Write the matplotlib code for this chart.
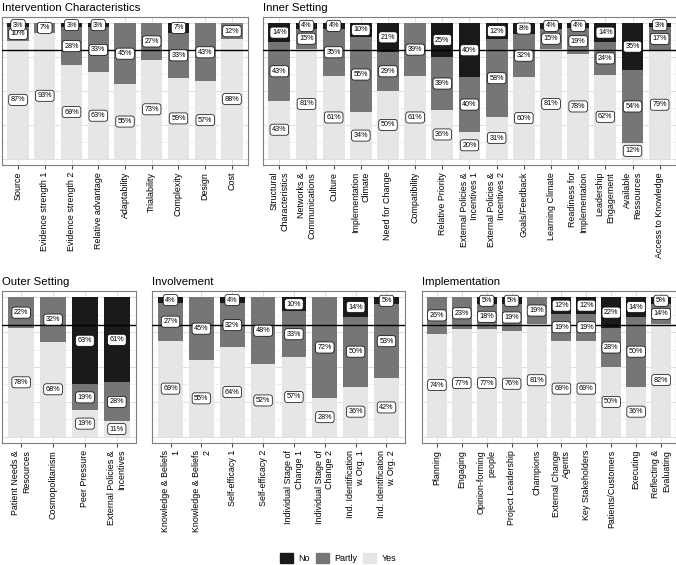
import matplotlib.pyplot as plt
from matplotlib.patches import Patch
import numpy as np

plt.rcParams['font.family'] = ['Liberation Sans', 'DejaVu Sans']

# Intervention Characteristics
ic_labels = ['Source', 'Evidence strength 1', 'Evidence strength 2', 'Relative advantage',
             'Adaptability', 'Trialability', 'Complexity', 'Design', 'Cost']
ic_yes = [87, 93, 69, 63, 55, 73, 59, 57, 88]
ic_partly = [10, 7, 28, 33, 45, 27, 33, 43, 12]
ic_no = [3, 0, 3, 3, 0, 0, 7, 0, 0]

# Inner Setting
is_labels = ['Structural\nCharacteristics', 'Networks &\nCommunications', 'Culture',
             'Implementation\nClimate', 'Need for Change', 'Compatibility', 'Relative Priority',
             'External Policies &\nIncentives 1', 'External Policies &\nIncentives 2',
             'Goals/Feedback', 'Learning Climate', 'Readiness for\nImplementation',
             'Leadership\nEngagement', 'Available\nRessources', 'Access to Knowledge']
is_yes = [43, 81, 61, 34, 50, 61, 36, 20, 31, 60, 81, 78, 62, 12, 79]
is_partly = [43, 15, 35, 55, 29, 39, 39, 40, 58, 32, 15, 19, 24, 54, 17]
is_no = [14, 4, 4, 10, 21, 0, 25, 40, 12, 8, 4, 4, 14, 35, 3]

# Outer Setting
os_labels = ['Patient Needs &\nResources', 'Cosmopolitanism', 'Peer Pressure',
             'External Policies &\nIncentives']
os_yes = [78, 68, 19, 11]
os_partly = [22, 32, 19, 28]
os_no = [0, 0, 63, 61]

# Involvement
iv_labels = ['Knowledge & Beliefs\n1', 'Knowledge & Beliefs\n2', 'Self-efficacy 1',
             'Self-efficacy 2', 'Individual Stage of\nChange 1', 'Individual Stage of\nChange 2',
             'Ind. Identification\nw. Org. 1', 'Ind. Identification\nw. Org. 2']
iv_yes = [69, 55, 64, 52, 57, 28, 36, 42]
iv_partly = [27, 45, 32, 48, 33, 72, 50, 53]
iv_no = [4, 0, 4, 0, 10, 0, 14, 5]

# Implementation
im_labels = ['Planning', 'Engaging', 'Opinion-forming\npeople', 'Project Leadership',
             'Champions', 'External Change\nAgents', 'Key Stakeholders', 'Patients/Customers',
             'Executing', 'Reflecting &\nEvaluating']
im_yes = [74, 77, 77, 76, 81, 69, 69, 50, 36, 82]
im_partly = [26, 23, 18, 19, 19, 19, 19, 28, 50, 14]
im_no = [0, 0, 5, 5, 0, 12, 12, 22, 14, 5]

colors = {'No': '#1a1a1a', 'Partly': '#767676', 'Yes': '#e6e6e6'}

W, H = 676, 565


def px_rect(x0, y0, x1, y1):
    return [x0 / W, 1 - y1 / H, (x1 - x0) / W, (y1 - y0) / H]


def panel(fig, rect, title, labels, yes, partly, no):
    ax = fig.add_axes(rect)
    x = np.arange(len(labels))
    yes, partly, no = (np.array(v, float) for v in (yes, partly, no))
    total = yes + partly + no
    bottom = np.zeros(len(x))
    for name, vals in [('Yes', yes), ('Partly', partly), ('No', no)]:
        h = vals / total
        ax.bar(x, h, bottom=bottom, width=0.8, color=colors[name], zorder=2)
        for xi, b, hi, v in zip(x, bottom, h, vals):
            if v > 0:
                ax.text(xi, b + hi / 2, f'{int(v)}%', ha='center', va='center',
                        fontsize=5.2, zorder=5,
                        bbox=dict(boxstyle='round,pad=0.28,rounding_size=0.35',
                                  fc='white', ec='black', lw=0.5))
        bottom = bottom + h
    ax.axhline(0.8, color='black', lw=1, zorder=4)

    ax.set_xlim(-0.6, len(x) - 0.4)
    ax.set_ylim(-0.045, 1.045)
    ax.set_yticks([0, 0.25, 0.5, 0.75, 1])
    ax.set_yticks([0.125, 0.375, 0.625, 0.875], minor=True)
    ax.grid(True, which='major', color='#d9d9d9', lw=0.6)
    ax.grid(True, which='minor', axis='y', color='#e6e6e6', lw=0.4)
    ax.set_axisbelow(True)
    ax.tick_params(axis='y', which='both', left=False, labelleft=False)
    ax.set_xticks(x)
    ax.set_xticklabels(labels, rotation=90, fontsize=6.4, multialignment='right')
    ax.tick_params(axis='x', length=3, color='#4d4d4d', pad=2)
    for s in ax.spines.values():
        s.set_color('#7f7f7f')
        s.set_linewidth(0.8)
    fig.text(rect[0], rect[1] + rect[3] + 4 / H, title, fontsize=8.2, ha='left', va='bottom')
    return ax


def main():
    fig = plt.figure(figsize=(W / 100, H / 100), dpi=100)
    panel(fig, px_rect(2, 17, 248, 165), 'Intervention Characteristics',
          ic_labels, ic_yes, ic_partly, ic_no)
    panel(fig, px_rect(263, 17, 676, 165), 'Inner Setting',
          is_labels, is_yes, is_partly, is_no)
    panel(fig, px_rect(2, 291, 136, 443), 'Outer Setting',
          os_labels, os_yes, os_partly, os_no)
    panel(fig, px_rect(152, 291, 405, 443), 'Involvement',
          iv_labels, iv_yes, iv_partly, iv_no)
    panel(fig, px_rect(422, 291, 676, 443), 'Implementation',
          im_labels, im_yes, im_partly, im_no)

    handles = [Patch(color=colors[k], label=k) for k in ['No', 'Partly', 'Yes']]
    fig.legend(handles=handles, loc='center', bbox_to_anchor=(0.5, 1 - 558 / H), ncol=3,
               frameon=False, fontsize=6.5, handlelength=1.4, handleheight=1.4,
               columnspacing=0.7, handletextpad=0.6)
    fig.savefig('out.png', dpi=100)


main()
